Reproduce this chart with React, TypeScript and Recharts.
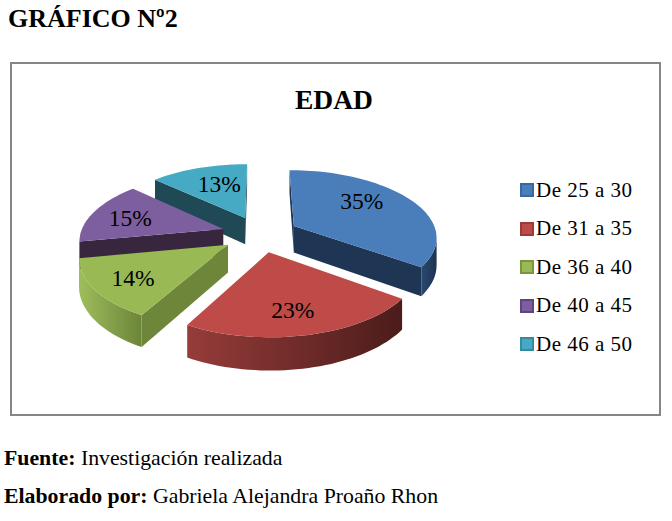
import { PieChart, Pie, Legend } from "recharts";

const categories = ["De 25 a 30", "De 31 a 35", "De 36 a 40", "De 40 a 45", "De 46 a 50"];
const values = [35, 23, 14, 15, 13];
const topColors = ["#4a7ebb", "#be4b48", "#98b954", "#7d5fa0", "#46aac5"];
const edgeColors = ["#3a679c", "#9c3a38", "#7a9540", "#5f4580", "#348a9f"];
const sideColors = ["#1e3553", "#5c2120", "#6d863a", "#38263f", "#1f4a55"];
const wallLight = ["#2a4970", "#963c3a", "#a0bd5c", "#4a3560", "#2a6070"];
const wallDark = ["#1c3350", "#4b1c1a", "#6c8539", "#38263f", "#1f4a55"];
// drawn back to front, the exploded slices overlap a little
const paintOrder = [4, 0, 3, 2, 1];
// label offset from the slice tip
const labelShift = [
  [68, -25],
  [24, 58],
  [-95, 33],
  [-93, -11],
  [-26, -34],
];

const data = categories.map((name, i) => ({ name, value: values[i] }));

const SERIF = "'Liberation Serif', serif";
const EXPLODE = 0.27;
const SQUASH = 0.464;
const PERSPECTIVE = 0.149;
const DEPTH = 27;

function Slice(props: any) {
  const { cx, cy, outerRadius, startAngle, endAngle, midAngle } = props;
  const i = categories.indexOf(props.name ?? props.payload?.name);
  const rad = (d: number) => (d * Math.PI) / 180;
  const ou = Math.cos(rad(midAngle)) * EXPLODE;
  const ov = -Math.sin(rad(midAngle)) * EXPLODE;
  const project = (u: number, v: number, drop = 0) => {
    const s = 1 / (1 - PERSPECTIVE * v);
    return [cx + outerRadius * u * s, cy + outerRadius * SQUASH * v * s + drop * DEPTH * s];
  };
  const at = (deg: number, r: number, drop = 0) =>
    project(ou + Math.cos(rad(deg)) * r, ov - Math.sin(rad(deg)) * r, drop);

  const steps = Math.ceil(Math.abs(endAngle - startAngle) / 2);
  const arcAngles = Array.from({ length: steps + 1 }, (_, k) => startAngle + ((endAngle - startAngle) * k) / steps);
  const pts = (list: number[][]) => list.map((p) => `${p[0].toFixed(1)},${p[1].toFixed(1)}`).join(" ");

  const tip = at(0, 0);
  const tipLow = at(0, 0, 1);
  const arcTop = arcAngles.map((a) => at(a, 1));
  const arcLow = arcAngles.map((a) => at(a, 1, 1));

  // only walls facing the viewer: going clockwise these run right to left
  const visible = arcAngles.map((_, k) => k).filter((k) => k > 0 && arcTop[k][0] < arcTop[k - 1][0]);
  const wallTop = visible.length ? [arcTop[visible[0] - 1], ...visible.map((k) => arcTop[k])] : [];
  const wallLow = visible.length ? [arcLow[visible[0] - 1], ...visible.map((k) => arcLow[k])] : [];

  const first = arcTop[0];
  const last = arcTop[arcTop.length - 1];
  const gradId = `wall-${i}`;
  const shift = labelShift[i];

  return (
    <g>
      <defs>
        <linearGradient id={gradId} x1="0" y1="0" x2="1" y2="0">
          <stop offset="0%" stopColor={wallLight[i]} />
          <stop offset="100%" stopColor={wallDark[i]} />
        </linearGradient>
      </defs>
      {tip[0] > first[0] && <polygon points={pts([tip, first, arcLow[0], tipLow])} fill={sideColors[i]} />}
      {last[0] > tip[0] && (
        <polygon points={pts([last, tip, tipLow, arcLow[arcLow.length - 1]])} fill={sideColors[i]} />
      )}
      {wallTop.length > 0 && (
        <polygon points={pts([...wallTop, ...[...wallLow].reverse()])} fill={`url(#${gradId})`} />
      )}
      <polygon points={pts([tip, ...arcTop])} fill={topColors[i]} />
      <text
        x={tip[0] + shift[0]}
        y={tip[1] + shift[1]}
        textAnchor="middle"
        dominantBaseline="central"
        fontFamily={SERIF}
        fontSize={23.5}
        fill="#000"
      >
        {`${values[i]}%`}
      </text>
    </g>
  );
}

function LegendBox() {
  return (
    <div style={{ fontFamily: SERIF, fontSize: 21, letterSpacing: 0.5, color: "#000" }}>
      {categories.map((name, i) => (
        <div key={name} style={{ display: "flex", alignItems: "center", height: 38.5 }}>
          <span
            style={{
              width: 10,
              height: 10,
              marginRight: 2,
              background: topColors[i],
              border: `2px solid ${edgeColors[i]}`,
            }}
          />
          <span style={{ whiteSpace: "nowrap" }}>{name}</span>
        </div>
      ))}
    </div>
  );
}

const textBase = { position: "absolute", left: 4, fontFamily: SERIF, color: "#000", whiteSpace: "nowrap" } as const;

export default function App() {
  return (
    <div style={{ position: "absolute", left: 0, top: 0, width: 672, height: 521, background: "#fff" }}>
      <div style={{ ...textBase, left: 8, top: 4, fontSize: 26, fontWeight: 700 }}>GRÁFICO Nº2</div>
      <div
        style={{
          position: "absolute",
          left: 10,
          top: 62,
          width: 647,
          height: 350,
          border: "2px solid #868686",
        }}
      />
      <div
        style={{
          position: "absolute",
          left: 295,
          top: 84,
          fontFamily: SERIF,
          fontSize: 27.5,
          fontWeight: 700,
          color: "#000",
        }}
      >
        EDAD
      </div>
      <div style={{ position: "absolute", left: 0, top: 0 }}>
        <PieChart width={672} height={521} margin={{ top: 0, right: 0, bottom: 0, left: 0 }}>
          {paintOrder.map((idx) => (
            <Pie
              key={categories[idx]}
              data={data}
              dataKey="value"
              nameKey="name"
              cx={260}
              cy={234}
              outerRadius={143}
              startAngle={90}
              endAngle={-270}
              stroke="none"
              isAnimationActive={false}
              shape={(p: any) => ((p.name ?? p.payload?.name) === categories[idx] ? <Slice {...p} /> : <g />)}
            />
          ))}
          <Legend
            layout="vertical"
            content={<LegendBox />}
            wrapperStyle={{ position: "absolute", left: 520, top: 171, width: 145, bottom: "auto", right: "auto" }}
          />
        </PieChart>
      </div>
      <div style={{ ...textBase, top: 446, fontSize: 21.8 }}>
        <b>Fuente:</b> Investigación realizada
      </div>
      <div style={{ ...textBase, top: 484, fontSize: 21.8 }}>
        <b>Elaborado por:</b> Gabriela Alejandra Proaño Rhon
      </div>
    </div>
  );
}
